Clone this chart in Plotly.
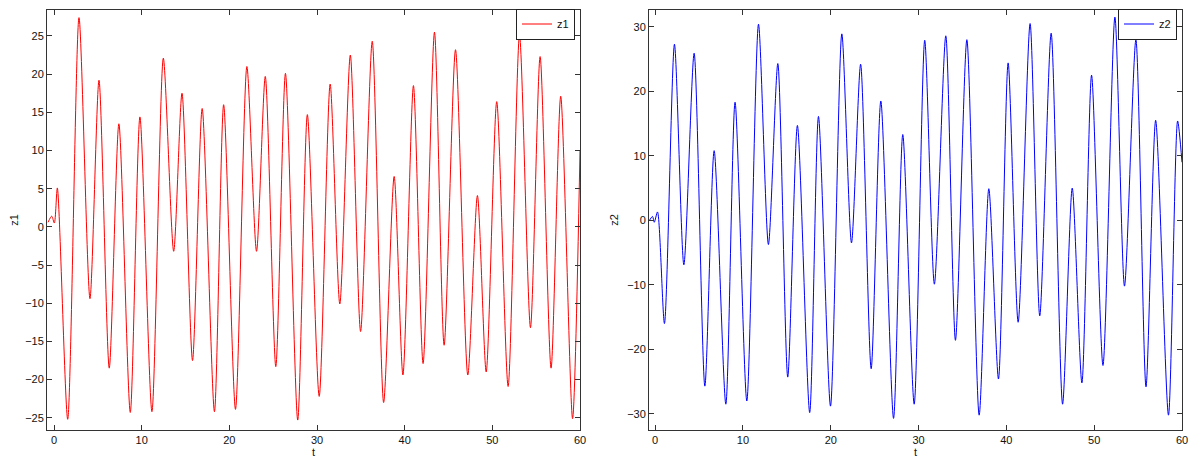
import plotly.graph_objects as go

# ---- data (extrema of each trace) ----
z1_t = [-0.68, -0.26, 0.04, 0.38, 1.56, 2.85, 4.1, 5.13, 6.3, 7.4, 8.7, 9.8, 11.17, 12.47,
        13.65, 14.6, 15.8, 16.9, 18.3, 19.35, 20.7, 22.0, 23.1, 24.1, 25.3, 26.4, 27.8,
        28.9, 30.25, 31.5, 32.6, 33.8, 34.97, 36.3, 37.6, 38.8, 39.8, 41.0, 42.1, 43.4,
        44.5, 45.8, 47.2, 48.3, 49.3, 50.5, 51.8, 53.1, 54.35, 55.45, 56.7, 57.8, 59.15, 60.0]
z1_v = [0.6, 1.4, 0.5, 5.1, -25.2, 27.4, -9.4, 19.2, -18.5, 13.5, -24.3, 14.4, -24.2, 22.1,
        -3.2, 17.5, -17.5, 15.5, -24.2, 16.0, -23.9, 21.0, -3.2, 19.7, -18.3, 20.1, -25.3,
        14.7, -22.2, 18.7, -10.1, 22.5, -13.7, 24.3, -23.0, 6.6, -19.4, 18.5, -17.9, 25.5,
        -15.5, 23.2, -19.4, 4.1, -19.0, 16.4, -20.9, 25.1, -13.2, 22.3, -18.5, 17.1, -25.1, 10.0]

z2_t = [-0.65, -0.3, -0.1, 0.27, 1.06, 2.2, 3.27, 4.44, 5.66, 6.72, 8.05, 9.1, 10.44, 11.77,
        12.9, 13.97, 15.1, 16.2, 17.6, 18.6, 19.97, 21.26, 22.36, 23.4, 24.6, 25.7, 27.15,
        28.2, 29.5, 30.7, 31.8, 33.1, 34.2, 35.5, 36.9, 38.0, 39.1, 40.2, 41.34, 42.7,
        43.8, 45.1, 46.4, 47.5, 48.6, 49.7, 51.0, 52.36, 53.45, 54.75, 55.9, 57.0, 58.46,
        59.5, 60.0]
z2_v = [0.0, 0.6, -0.3, 1.3, -16.0, 27.3, -6.9, 25.9, -25.7, 10.8, -28.5, 18.3, -28.0, 30.4,
        -3.75, 24.3, -24.3, 14.7, -29.8, 16.1, -28.8, 28.9, -3.5, 24.2, -23.0, 18.5, -30.7,
        13.3, -28.5, 27.9, -9.9, 28.6, -18.6, 28.0, -30.2, 4.9, -24.6, 24.4, -15.8, 30.5,
        -14.8, 29.0, -28.5, 5.0, -25.2, 22.5, -22.5, 31.5, -10.2, 28.0, -25.8, 15.5, -30.2,
        15.4, 9.0]

x_ticks = [0, 10, 20, 30, 40, 50, 60]
y1_ticks = [-25, -20, -15, -10, -5, 0, 5, 10, 15, 20, 25]
y2_ticks = [-30, -20, -10, 0, 10, 20, 30]

# the page body adds an 8px margin, so the figure is 8px smaller and offset
OFF = 8
W, H = 1200 - OFF, 464 - OFF
ML, MR, MT, MB = 47 - OFF, W - (1182 - OFF), 10 - OFF, H - (430 - OFF)
PW, PH = W - ML - MR, H - MT - MB
FONT = "Liberation Sans, Arial, Helvetica, sans-serif"
AX = "#333333"
SMOOTH = 0.75

fig = go.Figure()
fig.add_trace(go.Scatter(x=z1_t, y=z1_v, mode="lines", name="z1",
                         line=dict(color="#ff0000", width=1, shape="spline", smoothing=SMOOTH),
                         xaxis="x", yaxis="y", legend="legend"))
fig.add_trace(go.Scatter(x=z2_t, y=z2_v, mode="lines", name="z2",
                         line=dict(color="#0000ff", width=1, shape="spline", smoothing=SMOOTH),
                         xaxis="x2", yaxis="y2", legend="legend2"))

common = dict(showline=True, linecolor=AX, linewidth=1, mirror="ticks", ticks="inside",
              ticklen=5, tickcolor=AX, tickwidth=1, showgrid=False, zeroline=False,
              automargin=False,
              tickfont=dict(family=FONT, size=11, color="#111111"))


def px_x(p):  # page pixel -> paper fraction
    return (p - OFF - ML) / PW


def px_y(p):
    return 1 - (p - OFF - MT) / PH


leg = dict(xanchor="right", yanchor="middle", bgcolor="white", bordercolor="#222222",
           borderwidth=1, font=dict(family=FONT, size=11, color="#111111"),
           itemwidth=30, tracegroupgap=0)

fig.update_layout(
    width=W, height=H,
    margin=dict(l=ML, r=MR, t=MT, b=MB, autoexpand=False),
    paper_bgcolor="white", plot_bgcolor="white",
    font=dict(family=FONT, size=11, color="#111111"),
    xaxis=dict(domain=[0, px_x(580)], range=[-0.8, 60], tickvals=x_ticks,
               title=dict(text="t", standoff=1, font=dict(size=11)), anchor="y", **common),
    yaxis=dict(domain=[0, 1], range=[-26.6, 28.4], tickvals=y1_ticks,
               title=dict(text="z1", standoff=6, font=dict(size=11)), anchor="x", **common),
    xaxis2=dict(domain=[px_x(649), 1], range=[-0.7, 60], tickvals=x_ticks,
                title=dict(text="t", standoff=1, font=dict(size=11)), anchor="y2", **common),
    yaxis2=dict(domain=[0, 1], range=[-32.5, 32.6], tickvals=y2_ticks,
                title=dict(text="z2", standoff=6, font=dict(size=11)), anchor="x2", **common),
    legend=dict(x=px_x(575), y=px_y(24), **leg),
    legend2=dict(x=px_x(1177), y=px_y(24), **leg),
    showlegend=True,
)

fig.write_html("out.html")
